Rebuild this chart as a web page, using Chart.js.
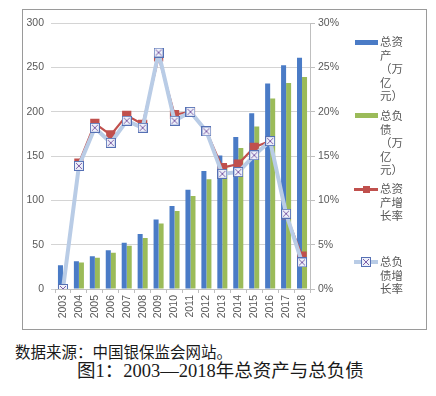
<!DOCTYPE html>
<html>
<head>
<meta charset="utf-8">
<script src="https://cdn.jsdelivr.net/npm/chart.js@4.4.1/dist/chart.umd.min.js"></script>
<style>
  body { margin: 0; background: #fff; width: 436px; height: 396px; position: relative; overflow: hidden; }
  #box { position: absolute; left: 22px; top: 9px; width: 403px; height: 319px; border: 1px solid #9a9a9a; }
  #box canvas { position: absolute; left: 0; top: 0; }
  .lg-text { position: absolute; left: 380px; font: 11.5px "Noto Sans CJK SC", sans-serif; line-height: 13.6px; color: #595959; white-space: nowrap; }
  .sw { position: absolute; }
  .cap { position: absolute; white-space: nowrap; color: #1a1a1a; }
</style>
</head>
<body>
<div id="box"><canvas id="chart" width="403" height="319"></canvas></div>

<!-- légende faite à la main (texte sur plusieurs lignes comme l'original) -->
<div class="sw" style="left:355px;top:40px;width:23px;height:5px;background:#4A7BC6"></div>
<div class="lg-text" style="top:35px">总资<br>产<br>（万<br>亿<br>元）</div>

<div class="sw" style="left:355px;top:113px;width:23px;height:5px;background:#9BBB59"></div>
<div class="lg-text" style="top:109px">总负<br>债<br>（万<br>亿<br>元）</div>

<div class="sw" style="left:354px;top:188px;width:24px;height:2.5px;background:#C0504D"></div>
<div class="sw" style="left:362.5px;top:186px;width:7px;height:7px;background:#C0504D"></div>
<div class="lg-text" style="top:182px">总资<br>产增<br>长率</div>

<div class="sw" style="left:354px;top:260px;width:24px;height:4px;background:#B9CCE6"></div>
<canvas id="lgMarker" class="sw" width="10" height="10" style="left:361px;top:257px"></canvas>
<div class="lg-text" style="top:255px">总负<br>债增<br>长率</div>

<div class="cap" style="left:15px;top:341px;font:15.5px/20px 'Noto Sans CJK SC', sans-serif">数据来源：中国银保监会网站。</div>
<div class="cap" style="left:77px;top:360px;font:18.5px/22px 'Liberation Serif', 'Noto Sans CJK SC', serif">图1：2003—2018年总资产与总负债</div>

<script>
// années
const years = ['2003', '2004', '2005', '2006', '2007', '2008', '2009', '2010',
               '2011', '2012', '2013', '2014', '2015', '2016', '2017', '2018'];
// 总资产 / 总负债 (万亿元)
const assets = [26.9, 31.3, 36.9, 43.7, 52.2, 62.0, 78.4, 93.7,
                112.0, 133.2, 150.7, 171.5, 198.3, 231.9, 252.5, 261.0];
const liabilities = [null, 29.9, 35.4, 41.0, 48.9, 57.5, 73.9, 88.0,
                     105.0, 124.0, 140.6, 159.2, 183.4, 215.0, 232.7, 239.4];
// taux de croissance (%)
const assetGrowth = [null, 14.2, 18.7, 17.4, 19.6, 18.6, 26.2, 19.7,
                     20.0, 17.8, 13.7, 14.1, 16.0, 16.7, 8.4, 3.7];
const liabGrowth = [0, 13.9, 18.2, 16.5, 19.0, 18.2, 26.7, 19.0,
                    20.0, 17.8, 13.0, 13.2, 15.1, 16.7, 8.5, 3.0];
// graduations
const leftTicks = { min: 0, max: 300, step: 50 };
const rightTicks = { min: 0, max: 30, step: 5 };

// marqueur carré avec croix
function drawBoxX(c) {
    const g = c.getContext('2d');
    const s = c.width;
    g.fillStyle = '#EEF1FA';
    g.fillRect(0, 0, s, s);
    g.strokeStyle = '#5570B4';
    g.lineWidth = 1;
    g.strokeRect(0.5, 0.5, s - 1, s - 1);
    g.strokeStyle = '#7D5FA8';
    g.beginPath();
    g.moveTo(2, 2); g.lineTo(s - 2, s - 2);
    g.moveTo(s - 2, 2); g.lineTo(2, s - 2);
    g.stroke();
    return c;
}
const marker = document.createElement('canvas');
marker.width = 10; marker.height = 10;
drawBoxX(marker);
drawBoxX(document.getElementById('lgMarker'));

const tickFont = { family: "'Liberation Sans', Arial, sans-serif", size: 10.5 };

new Chart(document.getElementById('chart').getContext('2d'), {
    data: {
        labels: years,
        datasets: [
            {
                type: 'line', label: '总负债增长率', data: liabGrowth, yAxisID: 'y1',
                borderColor: '#B9CCE6', borderWidth: 4, tension: 0, borderJoinStyle: 'round',
                pointStyle: marker, pointRadius: 5, order: 1
            },
            {
                type: 'line', label: '总资产增长率', data: assetGrowth, yAxisID: 'y1',
                borderColor: '#C0504D', backgroundColor: '#C0504D', borderWidth: 2.2, tension: 0,
                pointStyle: 'rect', pointRadius: 5, order: 2
            },
            {
                type: 'bar', label: '总资产（万亿元）', data: assets, yAxisID: 'y',
                backgroundColor: '#4A7BC6', categoryPercentage: 0.63, barPercentage: 1, order: 3
            },
            {
                type: 'bar', label: '总负债（万亿元）', data: liabilities, yAxisID: 'y',
                backgroundColor: '#9BBB59', categoryPercentage: 0.63, barPercentage: 1, order: 3
            }
        ]
    },
    options: {
        responsive: false,
        animation: false,
        devicePixelRatio: 1,
        layout: { padding: { left: 0, right: 76, top: 10.7, bottom: 4 } },
        plugins: { legend: { display: false }, tooltip: { enabled: false } },
        scales: {
            x: {
                offset: true,
                grid: { offset: true, drawOnChartArea: false, tickLength: 4, color: '#BFBFBF' },
                border: { color: '#BFBFBF' },
                ticks: { minRotation: 90, maxRotation: 90, autoSkip: false, font: tickFont, color: '#595959', padding: 2 },
                afterFit: s => { s.height = 36; }
            },
            y: {
                position: 'left',
                min: leftTicks.min, max: leftTicks.max,
                ticks: { stepSize: leftTicks.step, font: tickFont, color: '#595959', padding: 7 },
                grid: { color: '#D4D4D4', tickLength: 4 },
                border: { display: false },
                afterFit: s => { s.width = 32; }
            },
            y1: {
                position: 'right',
                min: rightTicks.min, max: rightTicks.max,
                ticks: { stepSize: rightTicks.step, font: tickFont, color: '#595959', padding: 3,
                         callback: v => v + '%' },
                grid: { drawOnChartArea: false, tickLength: 5, color: '#BFBFBF' },
                border: { color: '#BFBFBF' },
                afterFit: s => { s.width = 40; }
            }
        }
    }
});
</script>
</body>
</html>
